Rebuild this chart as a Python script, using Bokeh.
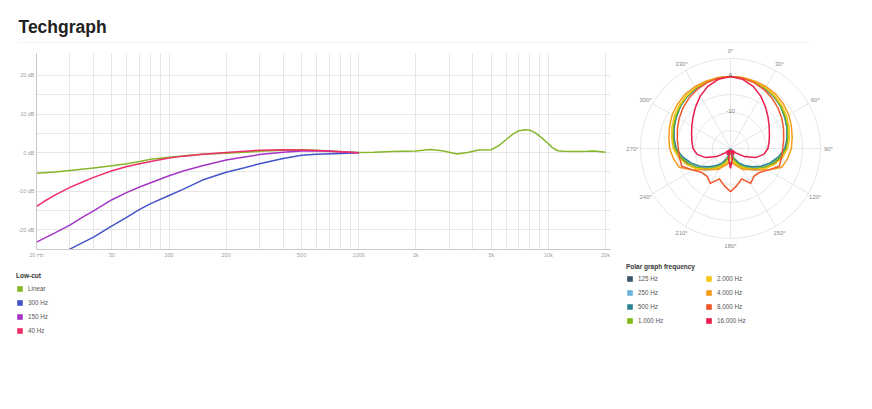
import math
from bokeh.plotting import figure
from bokeh.layouts import column, row
from bokeh.models import FixedTicker, Range1d, Legend, LegendItem
from bokeh.embed import file_html
from bokeh.resources import INLINE
from bokeh.core.properties import value

FONT = "Liberation Sans"
NAN = float("nan")

# ---------------- Frequency response data ----------------
freq_ticks = [20, 50, 100, 200, 500, 1000, 2000, 5000, 10000, 20000]
freq_tick_labels = ["20 Hz", "50", "100", "200", "500", "1000", "2k", "5k", "10k", "20k"]
db_ticks = [-20, -10, 0, 10, 20]
db_tick_labels = ["-20 dB", "-10 dB", "0 dB", "10 dB", "20 dB"]
db_grid = [-20, -15, -10, -5, 0, 5, 10, 15, 20]

linear_freq = [20, 25, 30, 40, 50, 60, 70, 80, 100, 120, 150, 200, 250, 300, 400, 500, 600, 700, 800,
               1000, 1200, 1500, 2000, 2400, 2800, 3300, 3800, 4300, 5000, 5500, 6000, 6500, 7000, 7500,
               8000, 8500, 9000, 9800, 10500, 11200, 12000, 14000, 16000, 17500, 20000]
linear_db = [-5.35, -5.0, -4.6, -4.0, -3.4, -2.9, -2.3, -1.7, -1.2, -0.8, -0.4, -0.15, 0.1, 0.35, 0.6, 0.75,
             0.6, 0.45, 0.3, 0.05, 0.1, 0.3, 0.45, 0.8, 0.45, -0.35, 0.1, 0.7, 0.75, 1.9, 3.4, 4.8, 5.7, 5.95,
             5.8, 5.2, 4.3, 2.7, 1.3, 0.5, 0.35, 0.3, 0.35, 0.45, 0.1]

cut300_freq = [28, 30, 35, 40, 50, 60, 70, 80, 100, 120, 150, 200, 250, 300, 400, 500, 600, 800, 1000]
cut300_db = [-25.8, -25.0, -23.3, -21.9, -19.0, -16.7, -14.7, -13.2, -11.1, -9.4, -7.1, -5.1, -3.9, -2.9,
             -1.5, -0.7, -0.4, -0.2, 0.0]

cut150_freq = [20, 25, 30, 35, 40, 50, 60, 70, 80, 100, 120, 150, 200, 250, 300, 400, 500, 600, 800, 1000]
cut150_db = [-23.2, -20.8, -18.8, -16.7, -15.1, -12.2, -10.3, -8.9, -7.8, -6.0, -4.7, -3.4, -1.9, -1.1,
             -0.5, 0.1, 0.4, 0.5, 0.2, 0.0]

cut40_freq = [20, 22, 25, 30, 35, 40, 50, 60, 70, 80, 100, 120, 150, 200, 300, 400, 500, 700, 1000]
cut40_db = [-13.9, -12.6, -11.0, -9.0, -7.6, -6.4, -4.7, -3.6, -2.9, -2.3, -1.4, -0.9, -0.4, 0.05, 0.65,
            0.75, 0.7, 0.4, 0.0]

lowcut_names = ["Linear", "300 Hz", "150 Hz", "40 Hz"]
lowcut_colors = ["#85b72b", "#4454c8", "#a535c6", "#ef2e69"]
lowcut_series = [(linear_freq, linear_db), (cut300_freq, cut300_db), (cut150_freq, cut150_db),
                 (cut40_freq, cut40_db)]

# ---------------- Polar data (dB, 0..180 deg, pattern is symmetric) ----------------
polar_angles = [0, 10, 20, 30, 40, 50, 60, 70, 80, 90, 100, 110, 120, 130, 140, 150, 160, 170, 180]
polar_125 = [0, -0.1, -0.3, -0.7, -1.2, -1.8, -2.5, -3.2, -3.9, -4.6, -5.8, -7.3, -9.0, -10.8, -12.5,
             -14.0, -15.2, -15.8, -16.0]
polar_250 = [0, -0.1, -0.3, -0.7, -1.2, -1.8, -2.6, -3.3, -4.0, -4.7, -6.2, -7.9, -9.8, -11.7, -13.4,
             -15.0, -16.6, -18.3, -20.0]
polar_500 = [0, -0.1, -0.3, -0.7, -1.2, -1.8, -2.6, -3.3, -4.1, -4.9, -6.5, -8.3, -10.2, -12.1, -13.8,
             -15.4, -17.0, -18.6, -20.0]
polar_1000 = [0, -0.1, -0.3, -0.6, -1.1, -1.7, -2.4, -3.1, -3.8, -4.5, -6.0, -7.6, -9.4, -11.2, -13.0,
              -14.6, -16.2, -18.0, -19.5]
polar_2000 = [0, -0.1, -0.2, -0.5, -0.9, -1.4, -2.0, -2.7, -3.4, -4.1, -5.4, -7.0, -8.9, -10.9, -12.6,
              -14.0, -15.3, -16.5, -17.5]
polar_4000 = [0, 0, -0.1, -0.2, -0.4, -0.8, -1.3, -2.0, -2.6, -3.1, -3.9, -4.8, -8.0, -10.9, -12.4,
              -13.3, -14.8, -15.8, -16.3]
polar_8000 = [0, -0.2, -0.6, -1.2, -1.9, -2.7, -3.5, -4.3, -5.0, -5.5, -5.6, -5.6, -8.0, -9.6, -9.9,
              -8.8, -11.0, -9.6, -8.0]
polar_16000 = [0, -0.5, -1.6, -3.2, -4.9, -6.4, -7.6, -8.5, -9.1, -9.6, -10.6, -12.6, -15.5, -18.0,
               -19.5, -18.0, -19.5, -17.0, -14.5]

polar_names = ["125 Hz", "250 Hz", "500 Hz", "1.000 Hz", "2.000 Hz", "4.000 Hz", "8.000 Hz", "16.000 Hz"]
polar_colors = ["#3b5566", "#6cb3dd", "#2e8593", "#7fba16", "#f7c61a", "#f59b1a", "#f0572a", "#ea1b4d"]
polar_series = [polar_125, polar_250, polar_500, polar_1000, polar_2000, polar_4000, polar_8000, polar_16000]

polar_min_db = -20
polar_rings_db = [-15, -10, -5, 0, 5]
polar_ring_label_db = [0, -10]
polar_ring_labels = ["0", "-10"]
spoke_angles = [0, 30, 60, 90, 120, 150, 180, 210, 240, 270, 300, 330]
spoke_labels = [f"{a}\u00b0" for a in spoke_angles]

GRID = "#e6e6e6"
TICK_TXT = "#a0a0a0"


def blank_fig(title=None, **kw):
    f = figure(output_backend="svg", toolbar_location=None, x_axis_location=None, y_axis_location=None,
               x_range=Range1d(0, 1), y_range=Range1d(0, 1), title=title, **kw)
    f.grid.visible = False
    f.outline_line_color = None
    f.border_fill_color = "white"
    f.frame_align = False
    return f


# ---------------- Header (title + rule) ----------------
ph = blank_fig(title="Techgraph", width=864, height=43,
               min_border_left=18, min_border_right=54, min_border_top=42, min_border_bottom=0)
ph.background_fill_color = GRID
ph.title.text_font = FONT
ph.title.text_font_size = "17.5px"
ph.title.text_font_style = "bold"
ph.title.text_color = "#222222"
ph.title.align = "left"
ph.title.offset = 0
ph.title.standoff = 11

# ---------------- Frequency response chart ----------------
pf = figure(width=615, height=219, x_axis_type="log", x_range=Range1d(20, 21260),
            y_range=Range1d(-25.1, 25.7), output_backend="svg", toolbar_location=None, title=None,
            min_border_left=36, min_border_right=5, min_border_top=10, min_border_bottom=13)
pf.frame_align = False
pf.outline_line_color = None
pf.border_fill_color = "white"

pf.xaxis.ticker = FixedTicker(ticks=freq_ticks)
pf.xaxis.major_label_overrides = {t: l for t, l in zip(freq_ticks, freq_tick_labels)}
pf.yaxis.ticker = FixedTicker(ticks=db_ticks)
pf.yaxis.major_label_overrides = {t: l for t, l in zip(db_ticks, db_tick_labels)}
for ax in (pf.xaxis, pf.yaxis):
    ax.major_tick_line_color = None
    ax.minor_tick_line_color = None
    ax.major_tick_out = 0
    ax.major_tick_in = 0
    ax.minor_tick_out = 0
    ax.minor_tick_in = 0
    ax.axis_line_color = "#c8c8c8"
    ax.major_label_text_font = FONT
    ax.major_label_text_font_size = "5.5px"
    ax.major_label_text_color = TICK_TXT
    ax.major_label_standoff = 2

grid_x = [m * 10 ** e for e in (1, 2, 3, 4) for m in range(1, 10) if 20 <= m * 10 ** e <= 20000]
pf.xgrid.ticker = FixedTicker(ticks=grid_x)
pf.ygrid.ticker = FixedTicker(ticks=db_grid)
pf.xgrid.grid_line_color = GRID
pf.ygrid.grid_line_color = GRID

for name, color, (fx, fy) in zip(lowcut_names, lowcut_colors, lowcut_series):
    pf.line(fx, fy, line_color=color, line_width=1.5)

# ---------------- Polar chart ----------------
pp = figure(width=249, height=219, x_range=Range1d(-31.94, 31.94), y_range=Range1d(-29.17, 29.17),
            output_backend="svg", toolbar_location=None, x_axis_location=None, y_axis_location=None,
            title=None, min_border_left=0, min_border_right=19, min_border_top=0, min_border_bottom=9)
pp.frame_align = False
pp.grid.visible = False
pp.outline_line_color = None
pp.border_fill_color = "white"

ring_r = [d - polar_min_db for d in polar_rings_db]
outer_r = max(ring_r)
pp.circle(x=[0] * len(ring_r), y=[0] * len(ring_r), radius=ring_r, fill_color=None,
          line_color=GRID, line_width=1)
pp.ray(x=[0] * len(spoke_angles), y=[0] * len(spoke_angles), length=outer_r, length_units="data",
       angle=[math.radians(90 - a) for a in spoke_angles], line_color=GRID, line_width=1)

full_angles = polar_angles + [360 - a for a in reversed(polar_angles[:-1])]
for vals, color in zip(polar_series, polar_colors):
    full_db = vals + list(reversed(vals[:-1]))
    rr = [max(d - polar_min_db, 0) for d in full_db]
    xs = [r * math.sin(math.radians(a)) for r, a in zip(rr, full_angles)]
    ys = [r * math.cos(math.radians(a)) for r, a in zip(rr, full_angles)]
    pp.line(xs, ys, line_color=color, line_width=1.5)

lab_r = outer_r + 2.2
pp.text(x=[lab_r * math.sin(math.radians(a)) for a in spoke_angles],
        y=[lab_r * math.cos(math.radians(a)) for a in spoke_angles],
        text=spoke_labels, text_align="center", text_baseline="middle",
        text_font=value(FONT), text_font_size="6px", text_color="#8a8a8a")
pp.text(x=[0] * len(polar_ring_label_db), y=[d - polar_min_db + 0.3 for d in polar_ring_label_db],
        text=polar_ring_labels, text_align="center", text_baseline="middle",
        text_font=value(FONT), text_font_size="6px", text_color="#777777")

# ---------------- Legends (own small figures below the charts) ----------------
LEG = dict(orientation="vertical", location="top_left", glyph_width=7, glyph_height=7, label_height=7,
           label_width=10, spacing=7, padding=0, margin=0, label_standoff=5, border_line_color=None,
           background_fill_alpha=0, label_text_font=FONT, label_text_font_size="6.3px",
           label_text_color="#555555", title_text_font=FONT, title_text_font_size="6.5px",
           title_text_font_style="bold", title_text_color="#333333")


def legend_fig(width, left, top, names, colors, title, standoff):
    f = blank_fig(width=width, height=80, min_border_left=left, min_border_right=0,
                  min_border_top=top, min_border_bottom=0)
    f.background_fill_color = "white"
    items = []
    for name, color in zip(names, colors):
        # swatch renderer: one NaN row, so nothing is drawn in the plot but the legend gets its colour
        sw = f.quad(left=[NAN], right=[NAN], top=[NAN], bottom=[NAN], fill_color=color, line_color=None)
        items.append(LegendItem(label=name, renderers=[sw]))
    f.add_layout(Legend(items=items, title=title, title_standoff=standoff, **LEG))
    return f


lf = legend_fig(615, 16, 10, lowcut_names, lowcut_colors, "Low-cut", 6)
lp1 = legend_fig(90, 11, 1, polar_names[:4], polar_colors[:4], "Polar graph frequency", 5)
lp2 = legend_fig(159, 0, 1, polar_names[4:], polar_colors[4:], " ", 5)

layout = column(ph, row(pf, pp), row(lf, lp1, lp2))
open("out.html", "w").write(file_html(layout, INLINE))
